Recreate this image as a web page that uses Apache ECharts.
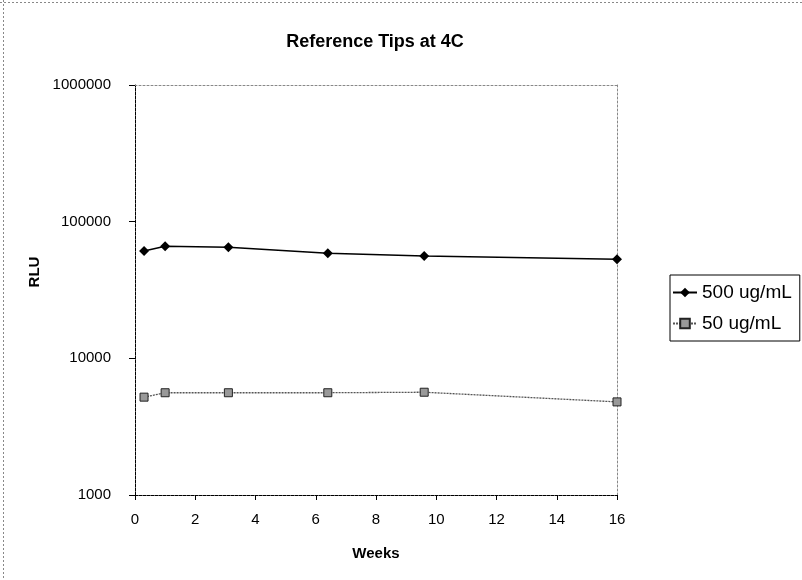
<!DOCTYPE html>
<html><head><meta charset="utf-8">
<script src="https://cdn.jsdelivr.net/npm/echarts@6/dist/echarts.min.js"></script>
<style>html,body{margin:0;padding:0;background:#fff}#c{width:802px;height:580px}</style>
</head><body><div id="c"></div>
<script>
var weeks = [0.3, 1, 3.1, 6.4, 9.6, 16];
var s500 = [61000, 66000, 65000, 58700, 56100, 53000];
var s50 = [5200, 5600, 5600, 5600, 5650, 4800];
var seriesNames = ['500 ug/mL', '50 ug/mL'];
var titleText = 'Reference Tips at 4C';
var xName = 'Weeks', yName = 'RLU';

function pairs(xs, ys){ return xs.map(function(x,i){ return [x, ys[i]]; }); }
var FONT = 'Liberation Sans, Arial, sans-serif';
var chart = echarts.init(document.getElementById('c'), null, {renderer:'canvas'});
chart.setOption({
  animation:false,
  backgroundColor:'#fff',
  title:{text:titleText,left:370,textAlign:'center',top:28,
    textStyle:{fontFamily:FONT,fontSize:18,fontWeight:'bold',color:'#000'}},
  grid:{left:135,right:185,top:85,bottom:85,containLabel:false},
  legend:{orient:'vertical',left:670,top:275,itemWidth:24,itemHeight:12,itemGap:12,
    padding:[8,8,8,2],borderColor:'#000',borderWidth:1,backgroundColor:'#fff',
    textStyle:{fontFamily:FONT,fontSize:19,color:'#000'},
    data:[{name:seriesNames[0]},{name:seriesNames[1]}]},
  xAxis:[{type:'value',min:0,max:16,interval:2,
    name:xName,nameLocation:'middle',nameGap:51,
    nameTextStyle:{fontFamily:FONT,fontSize:15,fontWeight:'bold',color:'#000'},
    axisLine:{lineStyle:{color:'#000',width:1,type:[3,1]}},
    axisTick:{length:5,inside:false,lineStyle:{color:'#000'}},
    axisLabel:{fontFamily:FONT,fontSize:15,color:'#000',margin:17},
    splitLine:{show:false}},
   {type:'value',min:0,max:16,position:'top',axisLine:{onZero:false,lineStyle:{color:'#888',type:[2,2]}},
    axisTick:{show:false},axisLabel:{show:false},splitLine:{show:false}}],
  yAxis:[{type:'log',logBase:10,min:1000,max:1000000,
    axisLine:{show:true,lineStyle:{color:'#000',width:1,type:[3,1]}},
    axisTick:{show:true,length:6,lineStyle:{color:'#000'}},
    axisLabel:{fontFamily:FONT,fontSize:15,color:'#000',margin:24,
      formatter:function(v){return String(Math.round(v));}},
    splitLine:{show:false}},
   {type:'log',logBase:10,min:1000,max:1000000,position:'right',
    axisLine:{show:true,onZero:false,lineStyle:{color:'#888',type:[2,2]}},
    axisTick:{show:false},axisLabel:{show:false},splitLine:{show:false}}],
  graphic:[
    {type:'line',shape:{x1:0,y1:2.5,x2:802,y2:2.5},style:{stroke:'#888',lineWidth:1,lineDash:[2,2]},silent:true},
    {type:'line',shape:{x1:3.5,y1:0,x2:3.5,y2:580},style:{stroke:'#888',lineWidth:1,lineDash:[2,2]},silent:true},
    {type:'text',x:35,y:272,rotation:Math.PI/2,
      style:{text:yName,font:'bold 15px '+FONT,fill:'#000',align:'center',verticalAlign:'middle'},silent:true}
  ],
  series:[
    {name:seriesNames[0],type:'line',data:pairs(weeks,s500),symbol:'diamond',symbolSize:10,
      lineStyle:{color:'#000',width:1.5},itemStyle:{color:'#000'}},
    {name:seriesNames[1],type:'line',data:pairs(weeks,s50),symbol:'rect',symbolSize:8,
      lineStyle:{color:'#555',width:1.3,type:[2,1]},itemStyle:{color:'#999',borderColor:'#222',borderWidth:1}}
  ]
});
</script></body></html>
